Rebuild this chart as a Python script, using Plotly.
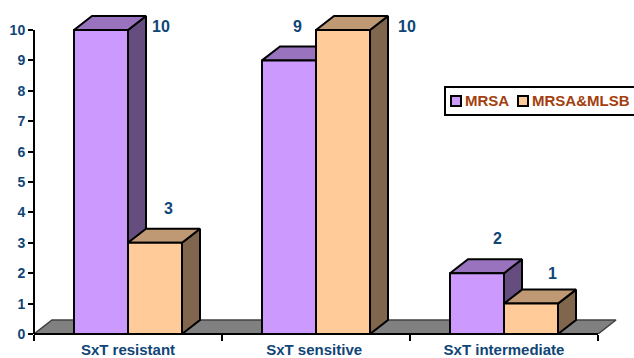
import plotly.graph_objects as go

categories = ["SxT resistant", "SxT sensitive", "SxT intermediate"]
mrsa = [10, 9, 2]
mrsa_mlsb = [3, 10, 1]
y_ticks = list(range(0, 11))

# Page size and pixel scale of the value and category axes
W, H = 634, 358
LEFT, BASE = 34, 334
PX_PER_CAT, PX_PER_UNIT = 188, 30.4
DX = 18 / PX_PER_CAT    # extrusion depth, x units
DY = 14 / PX_PER_UNIT   # extrusion depth, y units
BAR_W = 54 / PX_PER_CAT
EDGE = dict(color="black", width=2)
X_RANGE = [0, (W - LEFT) / PX_PER_CAT]
Y_RANGE = [0, BASE / PX_PER_UNIT]
NAVY = "#0F4577"
BROWN = "#A33F0F"


def face(xs, ys, fill, line=EDGE):
    return go.Scatter(x=xs, y=ys, mode="lines", fill="toself", fillcolor=fill,
                      line=line, showlegend=False, hoverinfo="skip")


def px(x):
    return (x - LEFT) / (W - LEFT)


def py(y):
    return (BASE - y) / BASE


fig = go.Figure()

# Floor of the pseudo-3D box
fig.add_trace(face([0, DX, 3 + DX, 3, 0], [0, DY, DY, 0, 0], "#808080",
                   dict(color="#404040", width=1.5)))

# Side and top faces, left series first so the right one overlaps it
for sign, values, side, top in [(-1, mrsa, "#664D80", "#9A73BF"),
                                (1, mrsa_mlsb, "#80664D", "#BF9973")]:
    for i, v in enumerate(values):
        x0 = i + 0.5 + (0 if sign > 0 else -BAR_W)
        x1 = x0 + BAR_W
        fig.add_trace(face([x1, x1 + DX, x1 + DX, x1, x1],
                           [0, DY, v + DY, v, 0], side))
        fig.add_trace(face([x0, x0 + DX, x1 + DX, x1, x0],
                           [v, v + DY, v + DY, v, v], top))

# Front faces sit on an overlaid axis pair so they draw above the extrusions
x_centres = [i + 0.5 for i in range(3)]
for name, values, colour in [("MRSA", mrsa, "#CC99FF"),
                             ("MRSA&MLSB", mrsa_mlsb, "#FFCC99")]:
    fig.add_trace(go.Bar(x=x_centres, y=values, name=name, xaxis="x2", yaxis="y2",
                         marker=dict(color=colour, line=EDGE), showlegend=False))

# Axis lines stop at the last tick, short of the floor overhang
fig.add_shape(type="line", xref="paper", yref="paper", x0=0, x1=0, y0=0,
              y1=y_ticks[-1] / Y_RANGE[1], line=EDGE, layer="above")
fig.add_shape(type="line", xref="paper", yref="paper", x0=0, x1=3 / X_RANGE[1],
              y0=0, y1=0, line=EDGE, layer="above")

# Value labels, nudged clear of the extruded faces
mrsa_shift = [(59.5, 4), (8.5, 33.6), (20, 35)]
mlsb_shift = [(13, 34), (64, 4), (21, 30.6)]
for values, off, shifts in [(mrsa, -BAR_W / 2, mrsa_shift),
                            (mrsa_mlsb, BAR_W / 2, mlsb_shift)]:
    for i, v in enumerate(values):
        fig.add_annotation(x=x_centres[i] + off, y=v, text=f"<b>{v}</b>",
                           showarrow=False, xshift=shifts[i][0], yshift=shifts[i][1],
                           font=dict(family="Liberation Sans", size=16, color=NAVY))

# Legend panel: it runs off the right side of the page
fig.add_shape(type="rect", xref="paper", yref="paper", x0=px(445), x1=px(650),
              y0=py(115), y1=py(87), line=dict(color="black", width=2),
              fillcolor="white", layer="above")
for name, colour, swatch_x, text_x in [("MRSA", "#CC99FF", 451, 464),
                                       ("MRSA&MLSB", "#FFCC99", 518, 531)]:
    fig.add_shape(type="rect", xref="paper", yref="paper", x0=px(swatch_x),
                  x1=px(swatch_x + 10), y0=py(106), y1=py(96),
                  line=dict(color="black", width=2), fillcolor=colour, layer="above")
    fig.add_annotation(xref="paper", yref="paper", x=px(text_x), y=py(100.5),
                       xanchor="left", yanchor="middle", text=f"<b>{name.replace('&', '&amp;')}</b>",
                       showarrow=False, xshift=-1,
                       font=dict(family="Liberation Sans", size=15, color=BROWN))

fig.update_layout(
    width=W, height=H,
    margin=dict(l=LEFT, r=0, t=0, b=H - BASE, pad=0, autoexpand=False),
    paper_bgcolor="white", plot_bgcolor="white", showlegend=False,
    barmode="group", bargap=1 - 2 * BAR_W, bargroupgap=0,
    xaxis=dict(range=X_RANGE, tickmode="array", tickvals=[0.5, 1.49, 2.5], ticktext=categories,
               ticks="", ticklen=0, showgrid=False, zeroline=False, showline=False,
               automargin=False,
               tickfont=dict(family="Liberation Sans", size=15, color=NAVY, weight="bold"),
               ticklabelstandoff=5,
               minor=dict(tickmode="array", tickvals=[0, 1, 2, 3], ticks="outside",
                          ticklen=6, tickwidth=2, tickcolor="black", showgrid=False)),
    yaxis=dict(range=Y_RANGE, tickmode="array", tickvals=y_ticks, ticks="outside",
               ticklen=5, tickwidth=2, tickcolor="black", showgrid=False, zeroline=False,
               showline=False, automargin=False,
               tickfont=dict(family="Liberation Sans", size=14, color=NAVY, weight="bold")),
    xaxis2=dict(range=X_RANGE, overlaying="x", visible=False),
    yaxis2=dict(range=Y_RANGE, overlaying="y", visible=False),
)

fig.write_html("out.html", config=dict(displayModeBar=False))
